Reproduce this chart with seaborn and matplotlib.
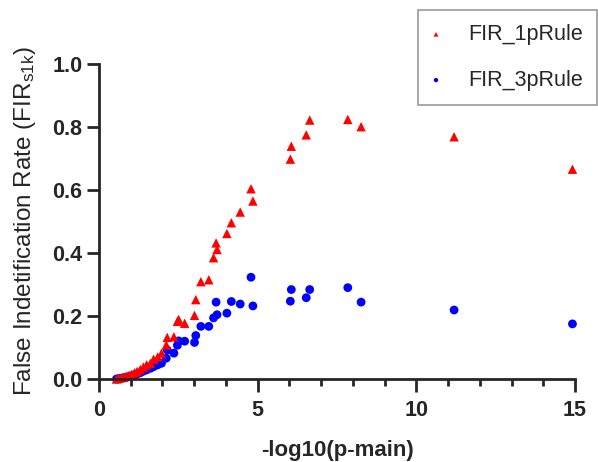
import pandas as pd
import numpy as np
import matplotlib
matplotlib.use("Agg")
import matplotlib.pyplot as plt
from matplotlib.ticker import MultipleLocator, FormatStrFormatter
import seaborn as sns

# -----------------------------
# Data
# -----------------------------
neg_log_p = [0.55, 0.62, 0.70, 0.78, 0.86, 0.95, 1.03, 1.12, 1.20, 1.30,
             1.40, 1.50, 1.62, 1.72, 1.85, 1.97, 2.12, 2.15, 2.36, 2.47,
             2.51, 2.70, 3.01, 3.05, 3.21, 3.46, 3.61, 3.69, 3.72, 4.03,
             4.17, 4.45, 4.79, 4.85, 6.03, 6.06, 6.53, 6.64, 7.84, 8.26,
             11.19, 14.92]
fir_1p = [0.000, 0.002, 0.004, 0.006, 0.009, 0.012, 0.015, 0.020, 0.024, 0.030,
          0.038, 0.045, 0.050, 0.063, 0.070, 0.082, 0.108, 0.132, 0.134, 0.183,
          0.189, 0.177, 0.202, 0.252, 0.309, 0.315, 0.385, 0.432, 0.411, 0.462,
          0.496, 0.530, 0.604, 0.565, 0.698, 0.739, 0.775, 0.822, 0.824, 0.801,
          0.769, 0.666]
fir_3p = [0.000, 0.001, 0.002, 0.004, 0.005, 0.008, 0.010, 0.013, 0.016, 0.020,
          0.025, 0.029, 0.034, 0.039, 0.045, 0.050, 0.066, 0.092, 0.082, 0.107,
          0.121, 0.120, 0.116, 0.138, 0.167, 0.167, 0.194, 0.244, 0.204, 0.209,
          0.246, 0.238, 0.323, 0.232, 0.247, 0.284, 0.258, 0.284, 0.290, 0.244,
          0.219, 0.175]

df = pd.DataFrame({'x': neg_log_p, 'FIR_1pRule': fir_1p, 'FIR_3pRule': fir_3p})

# -----------------------------
# Plot
# -----------------------------
sns.set_style("ticks")
plt.rcParams['font.family'] = ['Liberation Sans', 'DejaVu Sans']
plt.rcParams['mathtext.default'] = 'regular'

fig = plt.figure(figsize=(5.98, 4.62), dpi=100)
ax = fig.add_axes([99/598, 1 - 379/462, 476/598, 315/462])

# blue first so the red triangles sit on top
sns.scatterplot(data=df, x='x', y='FIR_3pRule', ax=ax, color='#0000FF',
                marker='o', s=40, edgecolor='none', label='FIR_3pRule', clip_on=False)
sns.scatterplot(data=df, x='x', y='FIR_1pRule', ax=ax, color='#FF0000',
                marker='^', s=46, edgecolor='none', label='FIR_1pRule', clip_on=False)

ax.set_xlim(0, 15)
ax.set_ylim(0, 1.0)
ax.xaxis.set_major_locator(MultipleLocator(5))
ax.xaxis.set_minor_locator(MultipleLocator(1))
ax.yaxis.set_major_locator(MultipleLocator(0.2))
ax.yaxis.set_major_formatter(FormatStrFormatter('%.1f'))

for side in ['top', 'right']:
    ax.spines[side].set_visible(False)
for side in ['left', 'bottom']:
    ax.spines[side].set_linewidth(2)
ax.tick_params(which='major', length=9, width=2, labelsize=15.5, direction='out')
ax.tick_params(axis='x', which='major', pad=6)
ax.tick_params(axis='y', which='major', pad=3)
ax.tick_params(which='minor', length=5, width=2, direction='out')
for lab in ax.get_xticklabels() + ax.get_yticklabels():
    lab.set_fontweight('bold')

ax.set_xlabel("-log10(p-main)", fontsize=16, fontweight='bold', labelpad=14)
ax.set_ylabel("False Indetification Rate (FIR$_{s1k}$)", fontsize=17.5, labelpad=10)

handles, labels = ax.get_legend_handles_labels()
ax.get_legend().remove()
order = [labels.index('FIR_1pRule'), labels.index('FIR_3pRule')]
fig.legend([handles[i] for i in order], [labels[i] for i in order],
           loc='upper right', bbox_to_anchor=(597/598, 1 - 10/462),
           fontsize=15.5, markerscale=0.5, frameon=True, fancybox=False,
           edgecolor='#808080', borderpad=0.65, labelspacing=1.15,
           handlelength=0.4, handletextpad=1.3, borderaxespad=0)
fig.legends[0].get_frame().set_linewidth(1.2)

plt.savefig("out.png", dpi=100)
